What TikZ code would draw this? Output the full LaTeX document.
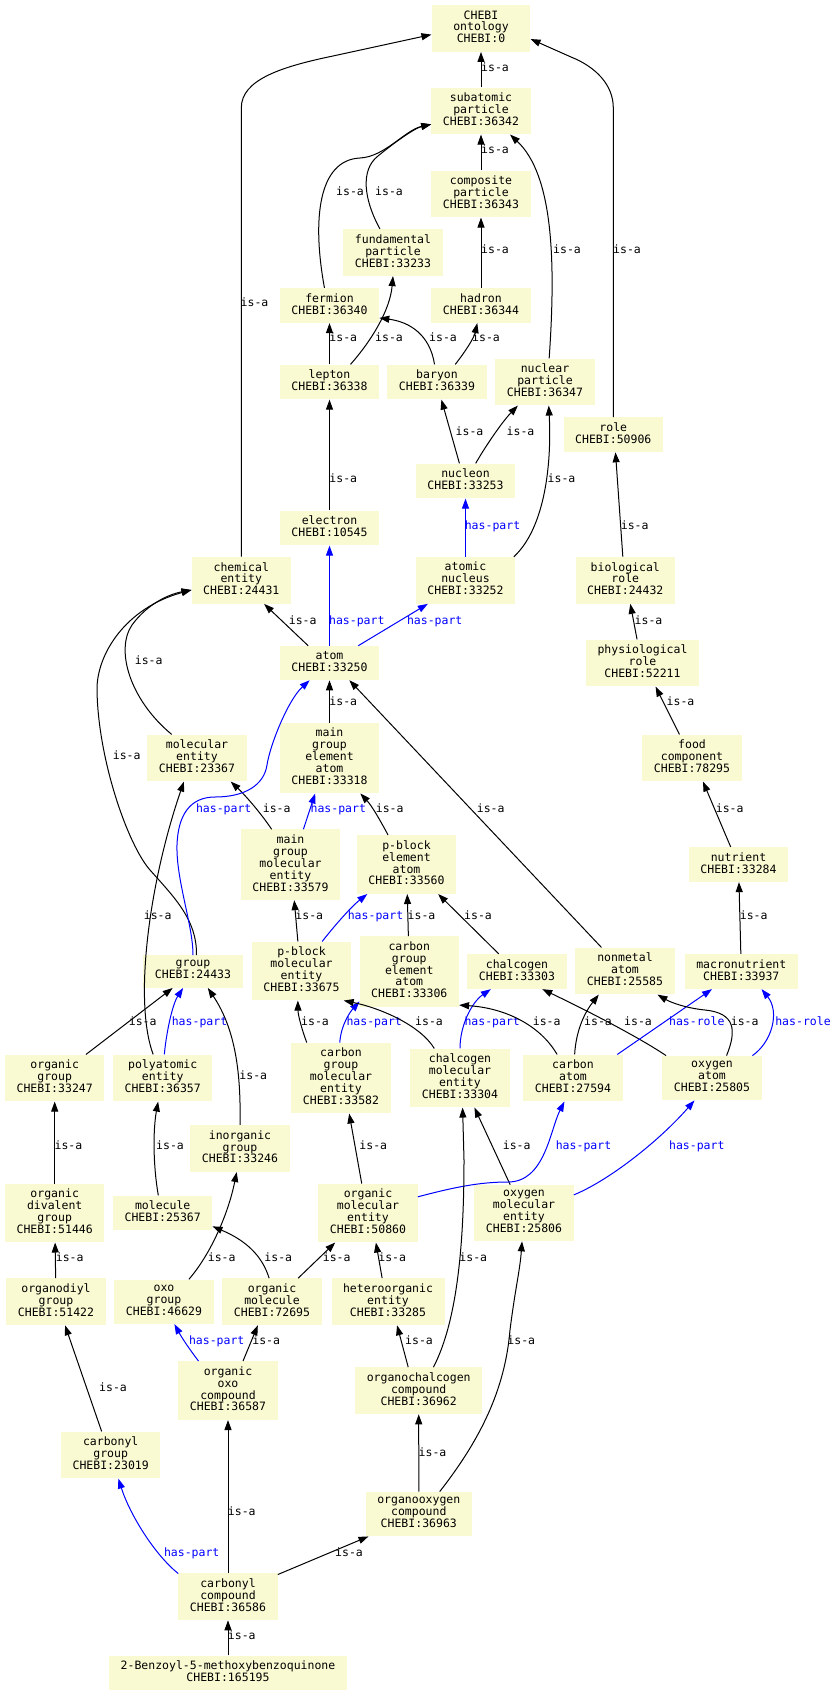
\documentclass[tikz,border=0pt]{standalone}
\usepackage{fontspec}
\usetikzlibrary{arrows.meta}
\newfontfamily\chebimono{DejaVu Sans Mono}
\newcommand\termfont{\chebimono\fontsize{11.5pt}{11.9pt}\selectfont}
\definecolor{termfill}{RGB}{250,250,210}
\definecolor{partblue}{RGB}{0,0,255}
\begin{document}
\begin{tikzpicture}
[x=1pt,y=-1pt,
 term/.style={fill=termfill, font=\termfont, align=center, minimum width=98.7pt, inner xsep=11.5pt, inner ysep=5.3pt, execute at begin node=\strut, execute at end node=\strut},
 isa/.style={line width=1pt, -{Triangle[length=10pt,width=7pt]}},
 part/.style={isa, draw=partblue},
 lab/.style={font=\termfont, inner sep=0pt, text height=8.3pt, text depth=3.6pt},
 plab/.style={lab, text=partblue}]
\fill[white] (0,0) rectangle (837,1696);
\node[term] (ontology) at (481,28.5) {CHEBI\\ontology\\CHEBI:0};
\node[term] (subatomic) at (481,111) {subatomic\\particle\\CHEBI:36342};
\node[term] (composite) at (481,194) {composite\\particle\\CHEBI:36343};
\node[term] (fundamental) at (393,252.5) {fundamental\\particle\\CHEBI:33233};
\node[term] (fermion) at (329.5,305.5) {fermion\\CHEBI:36340};
\node[term] (hadron) at (481,305.5) {hadron\\CHEBI:36344};
\node[term] (lepton) at (329.5,382) {lepton\\CHEBI:36338};
\node[term] (baryon) at (437,382) {baryon\\CHEBI:36339};
\node[term] (nuclpart) at (545,382) {nuclear\\particle\\CHEBI:36347};
\node[term] (role) at (613.3,434.7) {role\\CHEBI:50906};
\node[term] (nucleon) at (465.5,481) {nucleon\\CHEBI:33253};
\node[term] (electron) at (329.5,528) {electron\\CHEBI:10545};
\node[term] (chement) at (241.3,580.3) {chemical\\entity\\CHEBI:24431};
\node[term] (nucleus) at (465.5,580.3) {atomic\\nucleus\\CHEBI:33252};
\node[term] (biorole) at (625.3,580.3) {biological\\role\\CHEBI:24432};
\node[term] (atom) at (329.5,663) {atom\\CHEBI:33250};
\node[term] (physrole) at (642.5,663) {physiological\\role\\CHEBI:52211};
\node[term] (molent) at (197,758) {molecular\\entity\\CHEBI:23367};
\node[term] (mgatom) at (329.5,758) {main\\group\\element\\atom\\CHEBI:33318};
\node[term] (food) at (692,758) {food\\component\\CHEBI:78295};
\node[term] (mgmol) at (290.5,864.7) {main\\group\\molecular\\entity\\CHEBI:33579};
\node[term] (pbatom) at (406.5,864.5) {p-block\\element\\atom\\CHEBI:33560};
\node[term] (nutrient) at (738.5,864.5) {nutrient\\CHEBI:33284};
\node[term] (group) at (193,971.5) {group\\CHEBI:24433};
\node[term] (pbmol) at (301.5,971) {p-block\\molecular\\entity\\CHEBI:33675};
\node[term] (cgatom) at (409.3,971.5) {carbon\\group\\element\\atom\\CHEBI:33306};
\node[term] (chalcogen) at (517,971.5) {chalcogen\\CHEBI:33303};
\node[term] (nonmetal) at (625,971) {nonmetal\\atom\\CHEBI:25585};
\node[term] (macro) at (741.3,971.5) {macronutrient\\CHEBI:33937};
\node[term] (orggroup) at (54.7,1078) {organic\\group\\CHEBI:33247};
\node[term] (polyat) at (162.7,1078) {polyatomic\\entity\\CHEBI:36357};
\node[term] (cgmol) at (341,1078) {carbon\\group\\molecular\\entity\\CHEBI:33582};
\node[term] (chalcmol) at (460,1078) {chalcogen\\molecular\\entity\\CHEBI:33304};
\node[term] (carbon) at (573,1078) {carbon\\atom\\CHEBI:27594};
\node[term] (oxygen) at (712,1078) {oxygen\\atom\\CHEBI:25805};
\node[term] (inorg) at (240,1148.5) {inorganic\\group\\CHEBI:33246};
\node[term] (divalent) at (54.7,1213) {organic\\divalent\\group\\CHEBI:51446};
\node[term] (molecule) at (162.7,1213) {molecule\\CHEBI:25367};
\node[term] (orgmol) at (368,1213) {organic\\molecular\\entity\\CHEBI:50860};
\node[term] (oxmol) at (524,1213) {oxygen\\molecular\\entity\\CHEBI:25806};
\node[term] (organodiyl) at (56,1301.7) {organodiyl\\group\\CHEBI:51422};
\node[term] (oxo) at (164,1301.7) {oxo\\group\\CHEBI:46629};
\node[term] (orgmolecule) at (272,1301.7) {organic\\molecule\\CHEBI:72695};
\node[term] (hetero) at (388,1301.7) {heteroorganic\\entity\\CHEBI:33285};
\node[term] (oxocomp) at (228,1390.5) {organic\\oxo\\compound\\CHEBI:36587};
\node[term] (chalccomp) at (418.7,1390.7) {organochalcogen\\compound\\CHEBI:36962};
\node[term] (carbgroup) at (110.7,1455) {carbonyl\\group\\CHEBI:23019};
\node[term] (oxycomp) at (418.8,1514) {organooxygen\\compound\\CHEBI:36963};
\node[term] (carbcomp) at (228,1596.7) {carbonyl\\compound\\CHEBI:36586};
\node[term] (benzoyl) at (228,1673) {2-Benzoyl-5-methoxybenzoquinone\\CHEBI:165195};
% particles
\draw[isa] (subatomic) -- (ontology) node[lab] at (495,69.5) {is-a};
\draw[isa] (chement.north) -- (241.3,108) .. controls (241.3,80) and (280,67) .. (333,56) -- (ontology.187) node[lab] at (254.5,304) {is-a};
\draw[isa] (role.north) -- (613.3,108) .. controls (613.3,85) and (596,67) .. (571,57) -- (ontology.-12) node[lab] at (627,251) {is-a};
\draw[isa] (composite) -- (subatomic) node[lab] at (495,151.3) {is-a};
\draw[isa] (fermion.106) .. controls (312,220) and (318,160) .. (360,158) .. controls (385,156.8) and (405,130) .. (subatomic.195) node[lab] at (350,193) {is-a};
\draw[isa] (fundamental.119) .. controls (364,200) and (360,170) .. (378,156) .. controls (395,142) and (415,128) .. (subatomic.195) node[lab] at (389,193) {is-a};
\draw[isa] (nuclpart.80) .. controls (556,260) and (553,175) .. (subatomic.-39) node[lab] at (567,251) {is-a};
\draw[isa] (hadron) -- (composite) node[lab] at (495,251) {is-a};
\draw[isa] (lepton) -- (fermion) node[lab] at (343.3,339) {is-a};
\draw[isa] (lepton.40) .. controls (372,340) and (390,310) .. (fundamental.south) node[lab] at (389,339) {is-a};
\draw[isa] (baryon.98) .. controls (430,335) and (410,322) .. (fermion.-14) node[lab] at (443,339) {is-a};
\draw[isa] (baryon.44) .. controls (465,352) and (474,338) .. (hadron.-102) node[lab] at (486,339) {is-a};
\draw[isa] (nucleon.109) -- (baryon.-76) node[lab] at (469.5,433.5) {is-a};
\draw[isa] (nucleon.60) .. controls (485,447) and (502,422) .. (nuclpart.-139) node[lab] at (520.5,433.5) {is-a};
\draw[isa] (electron) -- (lepton) node[lab] at (343.3,480) {is-a};
\draw[part] (nucleus) -- (nucleon) node[plab] at (492.5,527.3) {has-part};
\draw[isa] (nucleus.26) .. controls (543,530) and (552,470) .. (nuclpart.-81) node[lab] at (561.5,480) {is-a};
\draw[isa] (biorole.96) -- (role.-83) node[lab] at (634.7,527.3) {is-a};
% atoms
\draw[isa] (atom.141) -- (chement.-46) node[lab] at (302.7,621.7) {is-a};
\draw[part] (atom) -- (electron) node[plab] at (356.8,621.7) {has-part};
\draw[part] (atom.31) -- (nucleus.-148) node[plab] at (434.7,621.7) {has-part};
\draw[isa] (physrole.103) -- (biorole.-78) node[lab] at (648.5,621.7) {is-a};
\draw[isa] (molent.137) .. controls (130,700) and (115,650) .. (132,625) .. controls (148,603) and (170,594) .. (chement.191) node[lab] at (148.7,662.3) {is-a};
\draw[isa] (group.78) .. controls (197,920) and (175,898) .. (150,870) .. controls (128,845) and (98,760) .. (97,690) .. controls (96.5,655) and (125,608) .. (chement.191) node[lab] at (126.7,757) {is-a};
\draw[isa] (mgatom) -- (atom) node[lab] at (343.3,703.3) {is-a};
\draw[isa] (nonmetal.135) -- (atom.-41) node[lab] at (490.7,810) {is-a};
\draw[isa] (food.118) -- (physrole.-61) node[lab] at (680.5,703.3) {is-a};
\draw[isa] (mgmol.118) .. controls (260,812) and (245,795) .. (molent.-35) node[lab] at (276.7,810) {is-a};
\draw[part] (group.north) .. controls (193,925) and (176,880) .. (177,845) .. controls (178,815) and (190,797) .. (215,797) .. controls (245,797) and (264,785) .. (267,765) .. controls (270,745) and (288,700) .. (atom.-139) node[plab] at (223.7,810) {has-part};
\draw[part] (mgmol.70) -- (mgatom.-112) node[plab] at (338.3,810) {has-part};
\draw[isa] (pbatom.122) .. controls (380,820) and (372,806) .. (mgatom.-49) node[lab] at (389.7,810) {is-a};
\draw[isa] (pbmol.97) -- (mgmol.-84) node[lab] at (309.3,917.3) {is-a};
\draw[part] (pbmol.55) .. controls (335,925) and (352,906) .. (pbatom.-143) node[plab] at (375.5,917.3) {has-part};
\draw[isa] (cgatom) -- (pbatom) node[lab] at (421.5,917.3) {is-a};
\draw[isa] (chalcogen.136) -- (pbatom.-43) node[lab] at (478,917.3) {is-a};
\draw[isa] (nutrient.114) -- (food.-65) node[lab] at (729.7,810) {is-a};
\draw[isa] (macro) -- (nutrient) node[lab] at (753.7,917.3) {is-a};
% groups and molecular entities
\draw[isa] (orggroup.37) -- (group.-141) node[lab] at (142.7,1023) {is-a};
\draw[part] (polyat.86) .. controls (166,1035) and (172,1005) .. (group.-121) node[plab] at (199.5,1023) {has-part};
\draw[isa] (polyat.112) .. controls (133,1000) and (150,880) .. (molent.-119) node[lab] at (157.7,917.3) {is-a};
\draw[isa] (inorg.north) .. controls (241,1075) and (236,1030) .. (group.-48) node[lab] at (253.3,1077) {is-a};
\draw[isa] (cgmol.134) .. controls (302,1030) and (298,1015) .. (pbmol.-97) node[lab] at (315,1023) {is-a};
\draw[part] (cgmol.92) .. controls (341,1025) and (350,1012) .. (cgatom.-149) node[plab] at (374.2,1023) {has-part};
\draw[isa] (chalcmol.131) .. controls (420,1025) and (380,1008) .. (pbmol.-35) node[lab] at (429,1023) {is-a};
\draw[part] (chalcmol.north) .. controls (460,1025) and (472,1002) .. (chalcogen.-146) node[plab] at (492.2,1023) {has-part};
\draw[isa] (carbon.124) .. controls (540,1025) and (505,1008) .. (cgatom.-34) node[lab] at (546.7,1023) {is-a};
\draw[isa] (carbon.86) .. controls (576,1030) and (585,1012) .. (nonmetal.-138) node[lab] at (598,1023) {is-a};
\draw[isa] (oxygen.154) .. controls (640,1038) and (590,1012) .. (chalcogen.-35) node[lab] at (638,1023) {is-a};
\draw[part] (carbon.28) -- (macro.-149) node[plab] at (696.8,1023) {has-role};
\draw[isa] (oxygen.57) .. controls (737,1030) and (735,1013) .. (705,1010) .. controls (685,1008) and (670,1002) .. (nonmetal.-36) node[lab] at (744.7,1023) {is-a};
\draw[part] (oxygen.29) .. controls (772,1042) and (780,1012) .. (macro.-41) node[plab] at (803,1023) {has-role};
\draw[isa] (divalent) -- (orggroup) node[lab] at (68.5,1147.3) {is-a};
\draw[isa] (molecule.104) .. controls (153,1165) and (153,1130) .. (polyat.-101) node[lab] at (170,1147.3) {is-a};
\draw[isa] (orgmol.102) -- (cgmol.-77) node[lab] at (373.3,1147.3) {is-a};
\draw[isa] (oxmol.116) -- (chalcmol.-64) node[lab] at (516.7,1147.3) {is-a};
\draw[part] (orgmol.18) .. controls (455,1187) and (480,1182) .. (508,1182) .. controls (545,1182) and (550,1130) .. (carbon.-110) node[plab] at (583.5,1147.3) {has-part};
\draw[part] (oxmol.20) .. controls (610,1180) and (660,1140) .. (oxygen.-128) node[plab] at (696.8,1147.3) {has-part};
% compounds
\draw[isa] (organodiyl) -- (divalent) node[lab] at (69.7,1259.3) {is-a};
\draw[isa] (oxo.42) .. controls (210,1255) and (228,1215) .. (inorg.-98) node[lab] at (221.7,1259.3) {is-a};
\draw[isa] (orgmolecule.97) .. controls (262,1255) and (245,1240) .. (molecule.-15) node[lab] at (278.3,1259.3) {is-a};
\draw[isa] (orgmolecule.42) -- (orgmol.-138) node[lab] at (336.7,1259.3) {is-a};
\draw[isa] (hetero.104) -- (orgmol.-75) node[lab] at (392.2,1259.3) {is-a};
\draw[isa] (chalccomp.58) .. controls (458,1320) and (464,1240) .. (464,1160) -- (chalcmol.-85) node[lab] at (473.3,1259.3) {is-a};
\draw[isa] (oxycomp.47) .. controls (480,1440) and (505,1390) .. (510,1330) .. controls (515,1290) and (520,1270) .. (oxmol.-94) node[lab] at (521.3,1342.3) {is-a};
\draw[part] (oxocomp.135) .. controls (190,1350) and (182,1338) .. (oxo.-65) node[plab] at (216.7,1342.3) {has-part};
\draw[isa] (oxocomp.63) -- (orgmolecule.-121) node[lab] at (266.2,1342.3) {is-a};
\draw[isa] (chalccomp.114) -- (hetero.-69) node[lab] at (419,1342.3) {is-a};
\draw[isa] (carbgroup.111) -- (organodiyl.-69) node[lab] at (113,1389.3) {is-a};
\draw[isa] (oxycomp) -- (chalccomp) node[lab] at (432.5,1454.3) {is-a};
\draw[isa] (carbcomp) -- (oxocomp) node[lab] at (241.8,1513.3) {is-a};
\draw[part] (carbcomp.155) .. controls (155,1555) and (130,1515) .. (carbgroup.-72) node[plab] at (191.7,1554.3) {has-part};
\draw[isa] (carbcomp.24) -- (oxycomp.-156) node[lab] at (349,1554.3) {is-a};
\draw[isa] (benzoyl) -- (carbcomp) node[lab] at (241.8,1637.3) {is-a};
\end{tikzpicture}
\end{document}
